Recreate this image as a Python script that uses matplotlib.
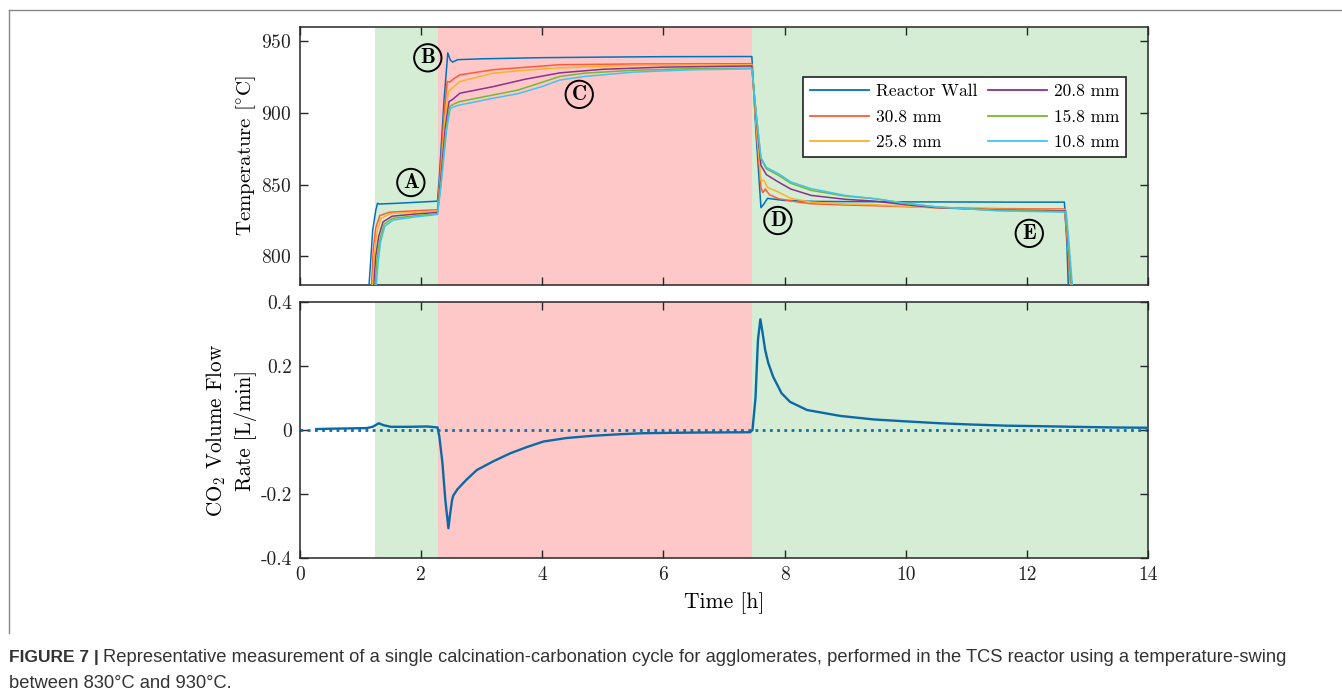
import matplotlib
matplotlib.use("Agg")
import matplotlib.pyplot as plt
from matplotlib.lines import Line2D

plt.rcParams['font.family'] = ['cmr10', 'DejaVu Serif']
plt.rcParams['mathtext.fontset'] = 'cm'
plt.rcParams['axes.unicode_minus'] = False
plt.rcParams['axes.formatter.use_mathtext'] = True

# ---------------- data ----------------
series_labels = ["Reactor Wall", "30.8 mm", "25.8 mm", "20.8 mm", "15.8 mm", "10.8 mm"]
series_colors = ["#0072BD", "#FF5A36", "#FBB22A", "#8E2F8E", "#77B833", "#3FC4F0"]

wall_t = [1.10, 1.14, 1.20, 1.25, 1.28, 1.31, 1.6, 2.27, 2.30, 2.38, 2.44, 2.48, 2.52, 2.6, 3.0, 4.0,
          5.0, 6.0, 7.46, 7.53, 7.61, 7.65, 7.72, 7.8, 8.0, 8.5, 10.0, 12.0, 12.62, 12.66, 12.70]
wall_T = [760, 780, 818, 832, 837, 836.5, 837, 838.5, 855, 910, 942, 937, 935.5, 937.2, 937.8, 938.6,
          939, 939.3, 939.4, 885, 834, 836, 840.5, 840, 839, 838.3, 838, 837.8, 837.8, 810, 760]

r30_t = [1.13, 1.18, 1.21, 1.25, 1.32, 1.48, 1.9, 2.27, 2.31, 2.38, 2.43, 2.47, 2.55, 2.64, 3.19, 4.29,
         5.5, 7.46, 7.53, 7.61, 7.64, 7.68, 7.75, 7.9, 8.2, 8.44, 9.0, 9.5, 10.5, 11.5, 12.62, 12.66, 12.72, 12.76]
r30_T = [760, 780, 805, 820, 828.5, 830.8, 831.8, 832.5, 855, 900, 922, 921.5, 924.3, 926.6, 930.2, 933.7,
         934.2, 934.4, 890, 848, 844.5, 847, 843, 840.2, 838, 836.7, 835.8, 835.3, 834, 833.3, 833, 815, 780, 760]

r25_t = [1.15, 1.20, 1.23, 1.27, 1.34, 1.50, 1.9, 2.27, 2.32, 2.39, 2.45, 2.5, 2.64, 3.19, 3.71, 4.29,
         5.5, 7.46, 7.53, 7.61, 7.66, 7.72, 7.9, 8.1, 8.44, 9.0, 9.5, 10.5, 11.5, 12.63, 12.67, 12.73, 12.77]
r25_T = [760, 780, 803, 817, 826.5, 829.8, 830.8, 831.6, 855, 895, 915, 917, 922, 927.8, 929.8, 931.5,
         933.2, 933.6, 893, 853, 853, 848, 844.8, 840.5, 837.8, 836.5, 836, 833.8, 832.8, 832.5, 815, 780, 760]

r20_t = [1.17, 1.22, 1.25, 1.30, 1.37, 1.52, 1.9, 2.27, 2.32, 2.40, 2.46, 2.52, 2.64, 3.19, 3.71, 4.29,
         5.0, 6.0, 7.46, 7.53, 7.61, 7.7, 7.9, 8.1, 8.44, 9.0, 9.49, 10.0, 10.5, 11.5, 12.64, 12.68, 12.74, 12.78]
r20_T = [760, 780, 800, 814, 824, 828, 829.5, 830.6, 852, 890, 908, 909.5, 913.8, 918.4, 923.5, 928,
         930.5, 932, 932.8, 898, 863.5, 857, 851.8, 847, 842.5, 839.8, 838.5, 836, 834, 832.3, 831.8, 812, 780, 760]

r15_t = [1.19, 1.24, 1.27, 1.32, 1.39, 1.53, 1.9, 2.27, 2.33, 2.41, 2.47, 2.55, 2.64, 3.19, 3.6, 4.0,
         4.29, 4.7, 5.5, 6.5, 7.46, 7.53, 7.61, 7.7, 7.9, 8.1, 8.44, 9.0, 9.49, 10.0, 10.5, 11.5, 12.64,
         12.68, 12.74, 12.78]
r15_T = [760, 780, 798, 812, 822.5, 826.5, 828.3, 829.8, 852, 888, 904.5, 906.5, 908, 912.6, 916, 921.5,
         925.5, 927.8, 929.8, 931, 931.3, 900, 868.2, 861, 856.5, 851, 846, 842, 840.2, 837, 834.5, 832, 831.3,
         812, 780, 760]

r10_t = [1.21, 1.26, 1.29, 1.33, 1.40, 1.54, 1.9, 2.27, 2.33, 2.42, 2.48, 2.55, 2.64, 3.19, 3.6, 4.0,
         4.29, 4.7, 5.5, 6.5, 7.46, 7.53, 7.61, 7.7, 7.9, 8.1, 8.44, 9.0, 9.49, 10.0, 10.5, 11.5, 12.65,
         12.69, 12.75, 12.79]
r10_T = [760, 780, 796, 810, 821, 825.3, 827.5, 829.2, 850, 888, 903, 904.5, 905.6, 910.3, 913.5, 918.5,
         923, 925.5, 928.5, 930.2, 930.8, 900, 869, 862, 857.7, 852, 847.2, 842.5, 840.2, 837, 834.5, 831.8,
         830.8, 812, 780, 760]

series_t = [wall_t, r30_t, r25_t, r20_t, r15_t, r10_t]
series_T = [wall_T, r30_T, r25_T, r20_T, r15_T, r10_T]

flow_t = [0.27, 0.5, 0.8, 1.1, 1.2, 1.3, 1.38, 1.5, 1.8, 2.1, 2.27, 2.30, 2.35, 2.40, 2.45, 2.48, 2.51,
          2.53, 2.6, 2.75, 2.92, 3.2, 3.47, 3.75, 4.02, 4.4, 4.84, 5.3, 5.67, 6.5, 7.43, 7.47, 7.52, 7.56,
          7.6, 7.64, 7.68, 7.73, 7.81, 7.95, 8.09, 8.37, 8.92, 9.47, 10.0, 10.57, 11.1, 11.67, 12.2, 12.77,
          13.4, 14.0]
flow_F = [0.003, 0.004, 0.005, 0.006, 0.01, 0.021, 0.015, 0.01, 0.01, 0.011, 0.008, -0.02, -0.1, -0.22,
          -0.307, -0.26, -0.22, -0.205, -0.185, -0.155, -0.125, -0.097, -0.073, -0.053, -0.036, -0.025,
          -0.018, -0.013, -0.010, -0.008, -0.007, 0.0, 0.1, 0.28, 0.346, 0.30, 0.25, 0.21, 0.167, 0.115,
          0.088, 0.0625, 0.044, 0.033, 0.027, 0.021, 0.017, 0.0135, 0.012, 0.010, 0.008, 0.007]

phase_starts = [1.24, 2.28, 7.47]
phase_ends = [2.28, 7.47, 14.0]
phase_colors = ["#D4EDD4", "#FFC8C8", "#D4EDD4"]

markers = ["A", "B", "C", "D", "E"]
marker_t = [1.83, 2.11, 4.61, 7.89, 12.04]
marker_T = [851.5, 938.5, 913, 825, 816]

x_ticks = [0, 2, 4, 6, 8, 10, 12, 14]
temp_ticks = [800, 850, 900, 950]
flow_ticks = [-0.4, -0.2, 0, 0.2, 0.4]
flow_ticklabels = ["-0.4", "-0.2", "0", "0.2", "0.4"]

caption_bold = "FIGURE 7 |"
caption_rest = ("Representative measurement of a single calcination-carbonation cycle for agglomerates, "
                "performed in the TCS reactor using a temperature-swing")
caption_line2 = "between 830\u00b0C and 930\u00b0C."

# ---------------- figure ----------------
W, H = 1342, 699
fig = plt.figure(figsize=(W / 100, H / 100), dpi=100)

def frac(x0, y0, x1, y1):
    return [x0 / W, 1 - y1 / H, (x1 - x0) / W, (y1 - y0) / H]

ax1 = fig.add_axes(frac(300, 27, 1148, 285))
ax2 = fig.add_axes(frac(300, 302, 1148, 558))

spine_col = "#262626"
for ax in (ax1, ax2):
    for s, e, c in zip(phase_starts, phase_ends, phase_colors):
        ax.axvspan(s, e, color=c, lw=0, zorder=0)
    ax.set_xlim(0, 14)
    ax.set_xticks(x_ticks)
    ax.tick_params(direction="in", length=6, width=1.0, top=True, right=True,
                   labelsize=14, colors=spine_col, labelcolor="#222222", pad=6)
    for sp in ax.spines.values():
        sp.set_color(spine_col)
        sp.set_linewidth(1.1)

# top axes
for t, T, c, lab in zip(series_t, series_T, series_colors, series_labels):
    ax1.plot(t, T, color=c, lw=1.1, label=lab, zorder=3)
ax1.set_ylim(780, 960)
ax1.set_yticks(temp_ticks)
ax1.set_xticklabels([])
ax1.set_ylabel("Temperature [$^{\\circ}$C]", fontsize=15)

for m, t, T in zip(markers, marker_t, marker_T):
    ax1.text(t, T, m, family=["cmb10", "DejaVu Serif"], fontsize=15, ha="center", va="center",
             zorder=5,
             bbox=dict(boxstyle="circle,pad=0.2", fc="none", ec="black", lw=1.4))

handles = [Line2D([0], [0], color=c, lw=1.3) for c in series_colors]
leg = ax1.legend(handles, series_labels, ncol=2, loc="upper left",
                 bbox_to_anchor=(0.593, 0.806), borderaxespad=0, fontsize=12.5, handlelength=3.4,
                 handletextpad=0.4, columnspacing=0.6, labelspacing=0.58,
                 borderpad=0.4, frameon=True, fancybox=False)
leg.get_frame().set_edgecolor("#222222")
leg.get_frame().set_linewidth(1.2)
leg.get_frame().set_alpha(1)

# bottom axes
ax2.axhline(0, color="#1170A0", lw=2.0, ls=(0, (1, 1.6)), zorder=2)
ax2.plot(flow_t, flow_F, color="#0B6AA6", lw=1.7, zorder=3)
ax2.set_ylim(-0.4, 0.4)
ax2.set_yticks(flow_ticks)
ax2.set_yticklabels(flow_ticklabels)
ax2.set_xticklabels([str(v) for v in x_ticks])
ax2.set_xlabel("Time [h]", fontsize=15.5, labelpad=6)
ax2.set_ylabel("CO$_2$ Volume Flow\nRate [L/min]", fontsize=15.2, linespacing=1.4)

ax1.yaxis.set_label_coords(-0.049, 0.5)
ax2.yaxis.set_label_coords(-0.051, 0.5)

# outer frame lines
fig.add_artist(Line2D([9 / W, 9 / W], [1 - 10 / H, 1 - 633 / H], color="#888888", lw=1.0,
                      transform=fig.transFigure))
fig.add_artist(Line2D([9 / W, 1.0], [1 - 10 / H, 1 - 10 / H], color="#888888", lw=1.0,
                      transform=fig.transFigure))

# caption
cap_font = ["Liberation Sans Narrow", "Liberation Sans", "DejaVu Sans"]
tb = fig.text(9 / W, 1 - 662 / H, caption_bold, family=cap_font, fontweight="bold",
              fontsize=12.5, color="#333333", va="baseline")
fig.canvas.draw()
bb = tb.get_window_extent()
fig.text((bb.x1 + 4) / W, 1 - 662 / H, caption_rest, family=cap_font, fontsize=13.2,
         color="#333333", va="baseline")
fig.text(9 / W, 1 - 688 / H, caption_line2, family=cap_font, fontsize=13.2,
         color="#333333", va="baseline")

fig.savefig("out.png", dpi=100)
